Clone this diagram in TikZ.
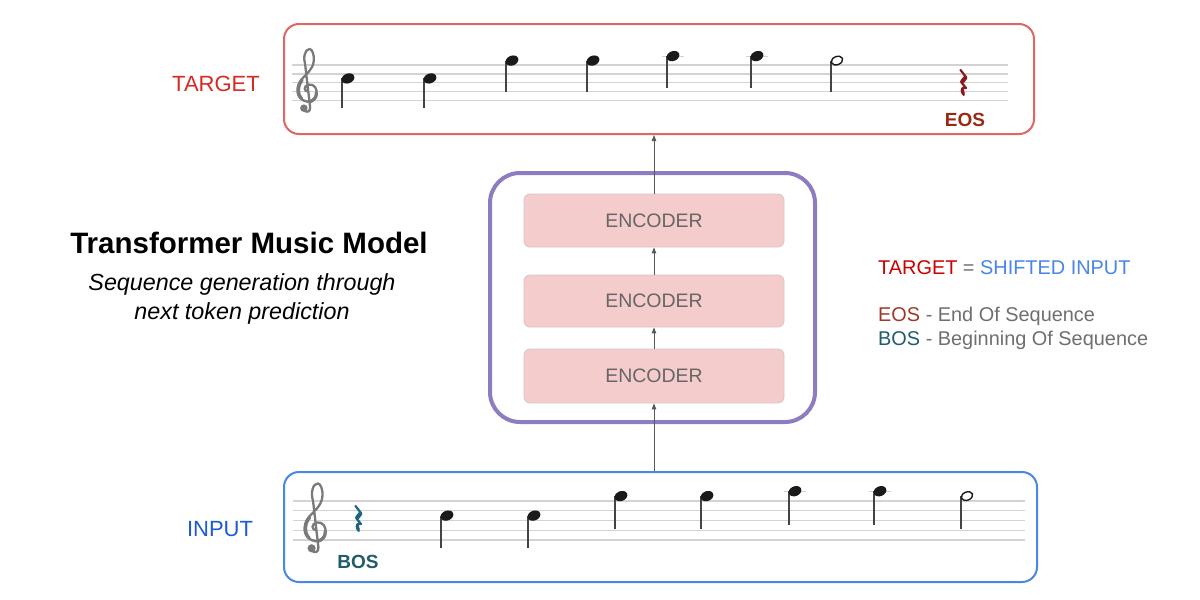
\documentclass[tikz,border=0pt]{standalone}
\usepackage{fontspec}
\setmainfont{Liberation Sans}
\usetikzlibrary{arrows.meta}
\definecolor{tgtbox}{HTML}{E06666}
\definecolor{inbox}{HTML}{4A86E8}
\definecolor{purp}{HTML}{8E7CC3}
\definecolor{encfill}{HTML}{F4CCCC}
\definecolor{encborder}{HTML}{D6C6C6}
\definecolor{enctext}{HTML}{666666}
\definecolor{arrgray}{HTML}{595959}
\definecolor{staffc}{HTML}{D3D3D3}
\definecolor{headc}{HTML}{1A1A1A}
\definecolor{stemc}{HTML}{444444}
\definecolor{clefc}{HTML}{7A7A7A}
\definecolor{eosc}{HTML}{9A2A16}
\definecolor{eosrest}{HTML}{8B1A1A}
\definecolor{bosc}{HTML}{1F5D6B}
\definecolor{bosrest}{HTML}{1F6383}
\definecolor{lblred}{HTML}{D62A22}
\definecolor{lblblue}{HTML}{1C5CD0}
\definecolor{legred}{HTML}{CC0000}
\definecolor{leggray}{HTML}{6F6F6F}
\definecolor{legblue}{HTML}{4A86E8}
\definecolor{legeos}{HTML}{A0392A}
\newcommand\mynoteq[3]{%
  \draw[stemc, line width=1.5pt] (#1-5.8,#2) -- (#1-5.8,#2+#3);
  \fill[headc, shift={(#1pt,-#2pt)}, rotate=22] (0,0) ellipse [x radius=6.6pt, y radius=4.9pt];}
\newcommand\mynoteh[3]{%
  \draw[stemc, line width=1.5pt] (#1-5.8,#2) -- (#1-5.8,#2+#3);
  \draw[headc, fill=white, line width=1.4pt, shift={(#1pt,-#2pt)}, rotate=22] (0,0) ellipse [x radius=5.9pt, y radius=4.1pt];}
\newcommand\myledger[2]{\draw[staffc, line width=1.2pt] (#1-11,#2) -- (#1+11,#2);}
\newcommand\myrest[3]{%
  \begin{scope}[shift={(#1pt,-#2pt)}]
  \draw[#3, line width=2.2pt, line join=round, line cap=round]
    (-2.5,0) -- (3,7) -- (-1.5,12.5) -- (3,18)
    .. controls (-0.5,16.5) and (-3,19.5) .. (0.8,25);
  \draw[#3, line width=4.2pt, line cap=round] (2.2,7.8) -- (-0.8,11.6);
  \draw[#3, line width=3.2pt, line cap=round] (-0.3,18.4) .. controls (-1,19.5) and (-0.8,21.5) .. (0.3,23.5);
  \end{scope}}
\newcommand\myclef[3]{%
  \begin{scope}[shift={(#1pt,-#2pt)}, x=#3pt, y=#3pt]
    \draw[clefc, line width=2.3pt, line cap=round, line join=round]
      (0.15,1.0) .. controls (-0.4,1.0) and (-0.4,1.7) .. (0.2,1.8)
      .. controls (0.85,1.9) and (1.2,1.25) .. (1.05,0.7)
      .. controls (0.9,-0.05) and (0.1,-0.3) .. (-0.35,0.0)
      .. controls (-1.3,0.4) and (-1.25,1.65) .. (-0.6,2.4)
      .. controls (-0.1,2.95) and (0.65,3.5) .. (0.75,4.4)
      .. controls (0.85,5.2) and (0.55,5.8) .. (0.3,5.8)
      .. controls (-0.25,5.8) and (-0.45,4.8) .. (-0.2,4.0)
      -- (0.35,-0.75)
      .. controls (0.4,-1.3) and (-0.1,-1.4) .. (-0.35,-1.05);
    \draw[clefc, line width=3.2pt, line cap=round] (1.05,0.9) .. controls (1.1,0.4) and (0.8,0.05) .. (0.4,-0.1);
    \draw[clefc, line width=3.2pt, line cap=round] (-0.55,2.3) .. controls (-1.1,1.7) and (-1.1,0.7) .. (-0.6,0.2);
    \fill[clefc] (-0.35,-0.85) circle (0.42);
  \end{scope}}
\begin{document}
\begin{tikzpicture}[x=1pt,y=-1pt,
  seqbox/.style={draw, rounded corners=15pt, line width=2pt, inner sep=0pt},
  encbox/.style={draw=encborder, fill=encfill, rounded corners=6pt, line width=0.8pt,
    minimum width=260pt, text=enctext, inner sep=0pt, font=\fontsize{19.5}{23}\selectfont},
  arr/.style={draw=arrgray, line width=1pt, -{Triangle[length=6pt,width=4.5pt]}},
  staffl/.style={draw=staffc, line width=1.3pt},
  lbl/.style={anchor=base, inner sep=0pt, font=\fontsize{22}{26}\selectfont},
  tag/.style={anchor=base, inner sep=0pt, font=\bfseries\fontsize{19}{23}\selectfont},
  legend/.style={anchor=base west, inner sep=0pt, font=\fontsize{19.9}{23}\selectfont}]
\useasboundingbox[fill=white] (0,0) rectangle (1200,600);

% boxes
\node[seqbox, draw=tgtbox, minimum width=750pt, minimum height=110pt] (target) at (659,79) {};
\node[seqbox, draw=inbox, minimum width=753pt, minimum height=110pt] (input) at (660.5,527) {};
\node[draw=purp, line width=4pt, rounded corners=30pt, minimum width=325pt, minimum height=249pt, inner sep=0pt] (model) at (652.5,297.5) {};

\node[encbox, minimum height=53pt] (enc1) at (654,220.5) {ENCODER};
\node[encbox, minimum height=52pt] (enc2) at (654,301) {ENCODER};
\node[encbox, minimum height=54pt] (enc3) at (654,376) {ENCODER};

% arrows
\draw[arr] (enc3.south |- input.north) -- (enc3.south);
\draw[arr] (enc3.north) -- (enc2.south);
\draw[arr] (enc2.north) -- (enc1.south);
\draw[arr] (enc1.north) -- (enc1.north |- target.south);

% labels
\node[lbl, text=lblred] (tlabel) at (216,91) {TARGET};
\node[lbl, text=lblblue] (ilabel) at (220,536) {INPUT};

\node[anchor=base, inner sep=0pt, font=\bfseries\fontsize{29.5}{34}\selectfont] (title) at (249,253) {Transformer Music Model};
\node[anchor=base, inner sep=0pt, font=\itshape\fontsize{23.3}{28}\selectfont] (sub1) at (242,290) {Sequence generation through};
\node[anchor=base, inner sep=0pt, font=\itshape\fontsize{23.3}{28}\selectfont] (sub2) at (242,319) {next token prediction};

\node[legend] (leg1) at (878,274) {{\color{legred}TARGET} {\color{leggray}=} {\color{legblue}SHIFTED INPUT}};
\node[legend] (leg2) at (878,321) {{\color{legeos}EOS} {\color{leggray}- End Of Sequence}};
\node[legend] (leg3) at (878,345) {{\color{bosc}BOS} {\color{leggray}- Beginning Of Sequence}};

% target staff
\foreach \yy in {65,73.9,82.8,91.7,100.6} \draw[staffl] (292,\yy) -- (1008,\yy);
\myclef{307}{100.6}{8.9}
\mynoteq{348}{78.4}{30}
\mynoteq{430}{78.4}{30}
\mynoteq{512}{60.6}{31}
\mynoteq{593}{60.6}{31}
\myledger{673}{56.1}
\mynoteq{673}{56.1}{32}
\myledger{757}{56.1}
\mynoteq{757}{56.1}{32}
\mynoteh{837}{60.6}{31}
\myrest{963}{70}{eosrest}
\node[tag, text=eosc] (eos) at (965,126) {EOS};

% input staff
\foreach \yy in {501,510.75,520.5,530.25,540} \draw[staffl] (293,\yy) -- (1025,\yy);
\myclef{315}{540}{9.75}
\myrest{358}{506}{bosrest}
\node[tag, text=bosc] (bos) at (358,568) {BOS};
\mynoteq{447}{515.6}{32}
\mynoteq{534}{515.6}{32}
\mynoteq{621}{496.1}{33}
\mynoteq{707}{496.1}{33}
\myledger{795}{491.2}
\mynoteq{795}{491.2}{34}
\myledger{880}{491.2}
\mynoteq{880}{491.2}{34}
\mynoteh{967}{496.1}{33}
\end{tikzpicture}
\end{document}
